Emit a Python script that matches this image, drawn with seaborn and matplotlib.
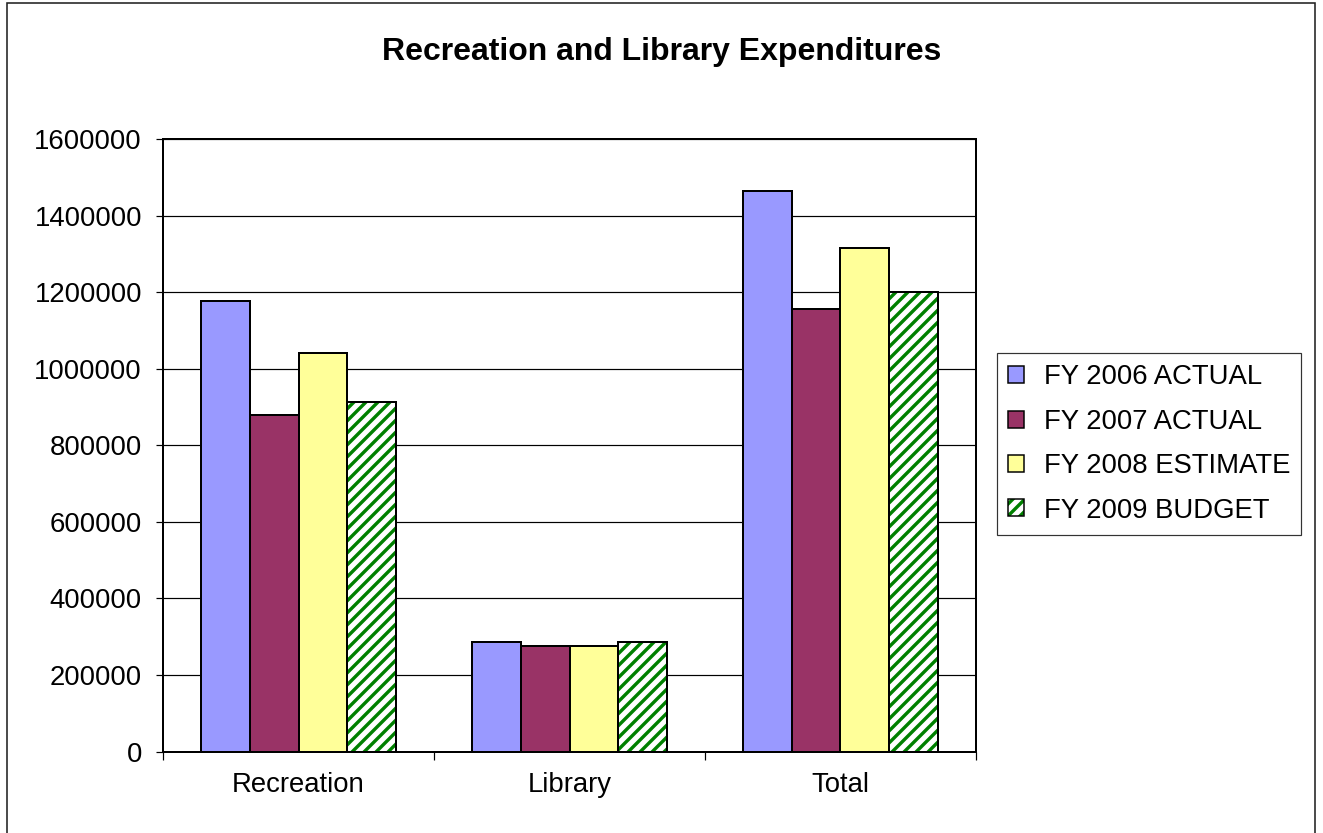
import matplotlib
matplotlib.use("Agg")
import matplotlib.pyplot as plt
from matplotlib.patches import Patch, Rectangle
from matplotlib.legend_handler import HandlerTuple
import pandas as pd
import seaborn as sns

# Expenditure data by category and fiscal year
categories = ["Recreation", "Library", "Total"]
series = ["FY 2006 ACTUAL", "FY 2007 ACTUAL", "FY 2008 ESTIMATE", "FY 2009 BUDGET"]
fy2006_actual = [1178000, 286000, 1464000]
fy2007_actual = [880000, 275000, 1155000]
fy2008_estimate = [1040000, 275000, 1315000]
fy2009_budget = [913000, 287000, 1200000]
y_ticks = [0, 200000, 400000, 600000, 800000, 1000000, 1200000, 1400000, 1600000]

colors = ["#9999FF", "#993366", "#FFFF99", "#FFFFFF"]
hatch_green = "#008000"

sns.set_style("white")
plt.rcParams["font.family"] = ["Liberation Sans", "DejaVu Sans"]
plt.rcParams["text.color"] = "black"
plt.rcParams["xtick.color"] = "black"
plt.rcParams["ytick.color"] = "black"
plt.rcParams["axes.labelcolor"] = "black"
plt.rcParams["hatch.linewidth"] = 3.4

W, H, DPI = 1323, 833, 72
fig = plt.figure(figsize=(W / DPI, H / DPI), dpi=DPI)
ax = fig.add_axes([163 / W, 1 - 751.5 / H, (976 - 163) / W, (751.5 - 139) / H])

values = [fy2006_actual, fy2007_actual, fy2008_estimate, fy2009_budget]
df = pd.DataFrame(
    [(c, s, v[i]) for s, v in zip(series, values) for i, c in enumerate(categories)],
    columns=["category", "series", "amount"],
)

sns.barplot(
    data=df, x="category", y="amount", hue="series",
    order=categories, hue_order=series, palette=colors,
    width=0.72, edgecolor="black", linewidth=2, saturation=1,
    errorbar=None, legend=False, ax=ax, zorder=2,
)

# Green diagonal hatching on the budget bars, with a black outline on top
for p in ax.containers[3]:
    x0, y0 = p.get_xy()
    ax.add_patch(Rectangle((x0, y0), p.get_width(), p.get_height(),
                           facecolor="none", edgecolor=hatch_green, hatch="//",
                           linewidth=0, zorder=2.1))
    ax.add_patch(Rectangle((x0, y0), p.get_width(), p.get_height(),
                           facecolor="none", edgecolor="black",
                           linewidth=2, zorder=2.2))

ax.set_ylim(0, 1600000)
ax.set_xlim(-0.5, len(categories) - 0.5)
ax.set_yticks(y_ticks, labels=[str(t) for t in y_ticks])
ax.set_xticks([i - 0.5 for i in range(len(categories) + 1)], labels=[])
ax.set_xticks(range(len(categories)), labels=categories, minor=True)
ax.tick_params(axis="y", which="major", direction="out", length=7, width=1.2,
               color="black", labelcolor="black", labelsize=27.5, pad=14, left=True)
ax.tick_params(axis="x", which="major", direction="out", length=8, width=1.2,
               color="black", bottom=True)
ax.tick_params(axis="x", which="minor", length=0, labelsize=27.5, pad=20,
               labelcolor="black")
ax.set_xlabel("")
ax.set_ylabel("")

ax.yaxis.grid(True, color="black", linewidth=1.2)
ax.set_axisbelow(True)
for side in ["left", "right", "top", "bottom"]:
    ax.spines[side].set_visible(True)
    ax.spines[side].set_color("black")
    ax.spines[side].set_linewidth(2)

fig.suptitle("Recreation and Library Expenditures", x=0.5, y=1 - 52 / H,
             va="center", ha="center", fontsize=32, fontweight="bold",
             color="black")

# Legend
handles = [
    Patch(facecolor=colors[0], edgecolor="black", linewidth=1.5),
    Patch(facecolor=colors[1], edgecolor="black", linewidth=1.5),
    Patch(facecolor=colors[2], edgecolor="black", linewidth=1.5),
    (Patch(facecolor="white", edgecolor=hatch_green, hatch="//", linewidth=0),
     Patch(facecolor="none", edgecolor="black", linewidth=1.5)),
]
leg = fig.legend(
    handles, series, loc="center left", bbox_to_anchor=(997 / W, 1 - 444 / H),
    fontsize=27.5, frameon=True, fancybox=False, shadow=False,
    handlelength=0.58, handleheight=0.58, handletextpad=0.73,
    labelspacing=0.67, borderpad=0.4, borderaxespad=0,
    handler_map={tuple: HandlerTuple(ndivide=1)},
)
leg.get_frame().set_edgecolor("black")
leg.get_frame().set_linewidth(1.2)
for t in leg.get_texts():
    t.set_color("black")

# Outer chart frame
fig.add_artist(Rectangle((7 / W, -0.05), (1315 - 7) / W, 1.05 - 3.5 / H,
                         transform=fig.transFigure, fill=False,
                         edgecolor="#222222", linewidth=1.6))

fig.savefig("out.png", dpi=DPI)
